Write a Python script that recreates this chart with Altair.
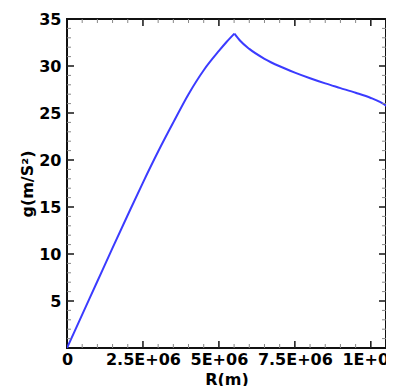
import altair as alt
import pandas as pd

# curve data (R in metres, g in m/s^2), rising branch and falling branch
r_up = [0, 0.5e6, 1.0e6, 1.5e6, 2.0e6, 2.5e6, 3.0e6, 3.5e6, 4.0e6, 4.5e6, 5.0e6, 5.25e6, 5.51e6]
g_up = [0, 3.55, 7.1, 10.65, 14.15, 17.6, 20.9, 24.0, 27.0, 29.55, 31.6, 32.55, 33.45]
r_down = [5.51e6, 5.7e6, 6.0e6, 6.5e6, 7.0e6, 7.5e6, 8.0e6, 8.5e6, 9.0e6, 9.5e6, 10.0e6, 10.3e6, 10.6e6, 10.7e6]
g_down = [33.45, 32.69, 31.82, 30.77, 29.97, 29.3, 28.7, 28.15, 27.65, 27.15, 26.6, 26.18, 25.58, 25.35]

x_major = [0, 2.5e6, 5e6, 7.5e6, 1e7]
x_minor = [i * 0.5e6 for i in range(22) if i % 5 != 0]
y_major = [5, 10, 15, 20, 25, 30]
y_minor = [i for i in range(1, 35) if i % 5 != 0]
x_labels = ["0", "2.5E+06", "5E+06", "7.5E+06", "1E+07"]

XMAX = 10.5e6
W, H = 319, 329
FONT = "DejaVu Sans"

df = pd.concat([
    pd.DataFrame({"R": r_up, "g": g_up, "seg": "up"}),
    pd.DataFrame({"R": r_down, "g": g_down, "seg": "down"}),
])

label_expr = " : ".join(
    f"datum.value == {v} ? '{l}'" for v, l in zip(x_major, x_labels)
) + " : ''"

xscale = alt.Scale(domain=[0, XMAX], nice=False, zero=False)
yscale = alt.Scale(domain=[0, 35], nice=False)

line = alt.Chart(df).mark_line(color="#3b3bff", strokeWidth=2, clip=True,
                               interpolate="monotone").encode(
    x=alt.X("R:Q", scale=xscale,
            axis=alt.Axis(values=x_major, labelExpr=label_expr, title="R(m)",
                          ticks=False, grid=False, domain=False,
                          labelFont=FONT, labelFontSize=16, labelFontWeight="bold",
                          labelColor="black", labelPadding=3, labelFlush=False,
                          titleFont=FONT, titleFontSize=16, titleFontWeight="bold",
                          titleColor="black", titleY=36, titleBaseline="alphabetic")),
    y=alt.Y("g:Q", scale=yscale,
            axis=alt.Axis(values=[5, 10, 15, 20, 25, 30, 35], title="g(m/S²)",
                          ticks=False, grid=False, domain=False,
                          labelFont=FONT, labelFontSize=16, labelFontWeight="bold",
                          labelColor="black", labelPadding=6,
                          titleFont=FONT, titleFontSize=16, titleFontWeight="bold",
                          titleColor="black", titlePadding=3)),
    detail="seg:N",
)

def xticks(vals, length, width, color):
    d = pd.DataFrame({"R": vals})
    bottom = alt.Chart(d).mark_rule(color=color, strokeWidth=width).encode(
        x=alt.X("R:Q", scale=xscale), y=alt.value(H), y2=alt.value(H - length))
    top = alt.Chart(d).mark_rule(color=color, strokeWidth=width).encode(
        x=alt.X("R:Q", scale=xscale), y=alt.value(0), y2=alt.value(length))
    return [bottom, top]

def yticks(vals, length, width, color):
    d = pd.DataFrame({"g": vals})
    left = alt.Chart(d).mark_rule(color=color, strokeWidth=width).encode(
        y=alt.Y("g:Q", scale=yscale), x=alt.value(0), x2=alt.value(length))
    right = alt.Chart(d).mark_rule(color=color, strokeWidth=width).encode(
        y=alt.Y("g:Q", scale=yscale), x=alt.value(W), x2=alt.value(W - length))
    return [left, right]

layers = [line]
layers += xticks([v for v in x_major if 0 < v < XMAX], 7, 1.6, "#222222")
layers += xticks([v for v in x_minor if v < XMAX], 4, 1, "#888888")
layers += yticks(y_major, 7, 1.6, "#222222")
layers += yticks(y_minor, 4, 1, "#888888")

chart = alt.layer(*layers).properties(
    width=W, height=H,
    autosize=alt.AutoSizeParams(type="none"),
    padding={"left": 59, "top": 11, "right": 0, "bottom": 40},
).configure_view(stroke="#111111", strokeWidth=2)

chart.save("out.html", embed_options={"renderer": "svg", "actions": False})
